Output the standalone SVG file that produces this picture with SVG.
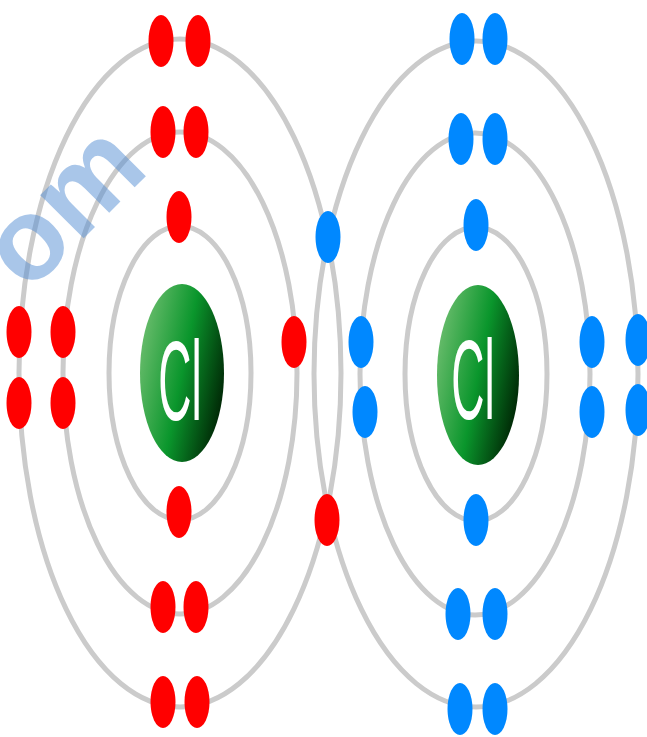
<svg xmlns="http://www.w3.org/2000/svg" width="647" height="737" viewBox="0 0 647 737">
  <style>
    .shell { fill: none; stroke: #cbcbcb; stroke-width: 5; }
    .e-red { fill: #ff0000; }
    .e-blue { fill: #0088ff; }
    .nucleus { fill: url(#nucleusFill); }
    .symbol { fill: #ffffff; font-family: "Liberation Sans", Arial, sans-serif; font-size: 46px; }
    .mark { fill: #538dd3; fill-opacity: 0.5; font-family: "Liberation Sans", Arial, sans-serif; font-weight: bold; font-size: 116px; }
  </style>
  <defs>
    <linearGradient id="nucleusFill" x1="0.02" y1="0.3" x2="0.98" y2="0.7">
      <stop offset="0" stop-color="#66bb6a"/>
      <stop offset="0.5" stop-color="#0a962c"/>
      <stop offset="1" stop-color="#002605"/>
    </linearGradient>
    <ellipse id="e" cx="0" cy="0" rx="12.5" ry="26"/>
  </defs>

  <rect width="647" height="737" fill="#ffffff"/>

  <!-- electron shells of both atoms -->
  <g id="shells">
    <ellipse class="shell" cx="180" cy="373" rx="71" ry="147"/>
    <ellipse class="shell" cx="180" cy="373" rx="117" ry="241"/>
    <ellipse class="shell" cx="180" cy="373" rx="161" ry="334"/>
    <ellipse class="shell" cx="476" cy="374" rx="71" ry="147"/>
    <ellipse class="shell" cx="475" cy="374" rx="115" ry="241"/>
    <ellipse class="shell" cx="476" cy="374" rx="162" ry="333"/>
  </g>

  <!-- left chlorine atom -->
  <g id="cl-left">
    <ellipse class="nucleus" cx="182" cy="373" rx="42" ry="89"/>
    <text class="symbol" text-anchor="middle" transform="translate(180,420) scale(1,2.45)">Cl</text>
    <g class="e-red">
      <use href="#e" x="161" y="41"/><use href="#e" x="198" y="41"/>
      <use href="#e" x="163" y="132"/><use href="#e" x="196" y="132"/>
      <use href="#e" x="179" y="217"/>
      <use href="#e" x="19" y="332"/><use href="#e" x="19" y="403"/>
      <use href="#e" x="63" y="332"/><use href="#e" x="63" y="403"/>
      <use href="#e" x="294" y="342"/>
      <use href="#e" x="179" y="512"/>
      <use href="#e" x="163" y="607"/><use href="#e" x="196" y="607"/>
      <use href="#e" x="163" y="702"/><use href="#e" x="197" y="702"/>
      <use href="#e" x="327" y="520"/>
    </g>
  </g>

  <!-- right chlorine atom -->
  <g id="cl-right">
    <ellipse class="nucleus" cx="478" cy="375" rx="41" ry="90"/>
    <text class="symbol" text-anchor="middle" transform="translate(473,419) scale(1,2.45)">Cl</text>
    <g class="e-blue">
      <use href="#e" x="462" y="39"/><use href="#e" x="495" y="39"/>
      <use href="#e" x="461" y="139"/><use href="#e" x="495" y="139"/>
      <use href="#e" x="476" y="225"/>
      <use href="#e" x="328" y="237"/>
      <use href="#e" x="361" y="342"/><use href="#e" x="365" y="412"/>
      <use href="#e" x="592" y="342"/><use href="#e" x="592" y="412"/>
      <use href="#e" x="638" y="340"/><use href="#e" x="638" y="410"/>
      <use href="#e" x="476" y="520"/>
      <use href="#e" x="458" y="614"/><use href="#e" x="495" y="614"/>
      <use href="#e" x="460" y="709"/><use href="#e" x="495" y="709"/>
    </g>
  </g>

  <!-- watermark -->
  <text class="mark" transform="translate(28,294) rotate(-45)">om</text>
</svg>
